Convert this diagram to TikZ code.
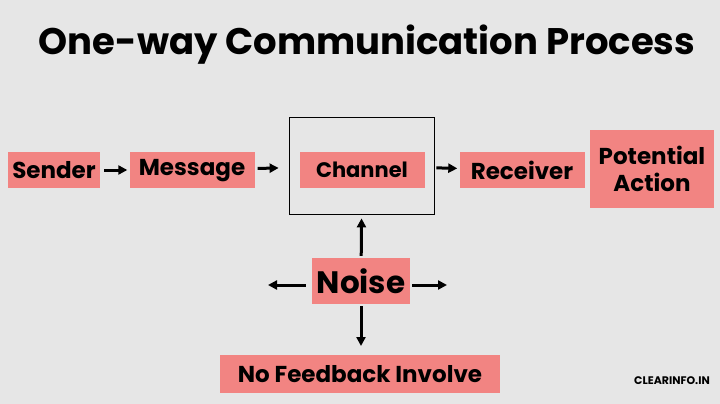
\documentclass[tikz,border=0pt]{standalone}
\usepackage{fontspec}
\setmainfont{Poppins}
\usetikzlibrary{positioning}
\usetikzlibrary{arrows.meta}
\definecolor{boxred}{HTML}{F28482}
\definecolor{bggray}{HTML}{E6E6E6}
\tikzstyle{tag} = [fill=boxred, font=\bfseries\fontsize{23}{27}\selectfont, inner sep=0pt, align=center]
\tikzstyle{flow} = [-{Triangle[length=9pt, width=9pt]}, line width=3pt]
\begin{document}
\begin{tikzpicture}[x=1pt, y=-1pt]
    \fill[bggray] (0,0) rectangle (720,404);
    \useasboundingbox (0,0) rectangle (720,404);
    \node[font=\bfseries\fontsize{37}{42}\selectfont] (title) at (367,45) {One-way Communication Process};

    \node[tag, minimum width=92, minimum height=36] (sender) at (54,170) {Sender};
    \node[tag, minimum width=125, minimum height=36] (message) at (192,170) {Message\vphantom{Sg}};
    \node[draw, line width=1.8pt, minimum width=145, minimum height=97] (channelbox) at (362,166) {};
    \node[tag, minimum width=125, minimum height=36, font=\bfseries\fontsize{21}{24}\selectfont] (channel) at (362,170) {Channel};
    \node[tag, minimum width=125, minimum height=36] (receiver) at (522,170) {Receiver};
    \node[tag, minimum width=124, minimum height=78] (action) at (652,169) {Potential\\Action};
    \node[tag, minimum width=98, minimum height=46, font=\bfseries\fontsize{31}{34}\selectfont] (noise) at (361,281) {Noise};
    \node[tag, minimum width=280, minimum height=38] (feedback) at (360,374) {No Feedback Involve};
    \node[font=\bfseries\fontsize{11}{13}\selectfont] (credit) at (672,381) {CLEARINFO.IN};

    \coordinate (noiseleft) at (268,285);
    \coordinate (noiseright) at (447,285);
    \coordinate (noisedown) at (361,346);

    \draw[flow, shorten <=4pt, shorten >=2pt] (sender) -- (message);
    \draw[flow, shorten <=3pt, shorten >=10pt] (message) -- (channelbox);
    \draw[flow, shorten <=1pt, shorten >=2pt] (channelbox) -- (receiver);
    \draw[flow, shorten <=2pt, shorten >=3pt] (noise) -- (channelbox);
    \draw[flow, shorten <=6pt] (noise.west |- noiseleft) -- (noiseleft);
    \draw[flow, shorten <=2pt] (noise.east |- noiseright) -- (noiseright);
    \draw[flow, shorten <=2pt] (noise.south) -- (noisedown);
\end{tikzpicture}
\end{document}
